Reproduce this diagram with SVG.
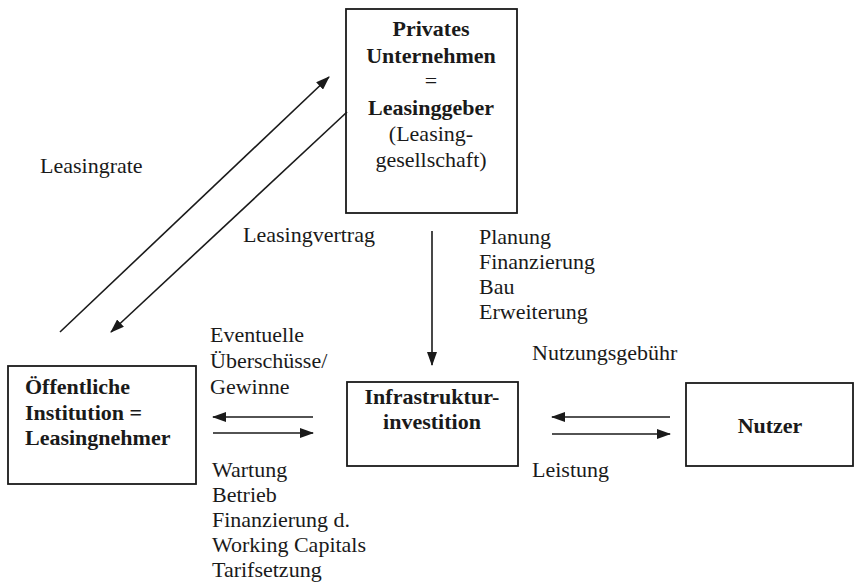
<svg xmlns="http://www.w3.org/2000/svg" width="854" height="587" viewBox="0 0 854 587">
<defs>
<style>
.box{fill:#fff;stroke:#1a1a1a;stroke-width:1.8}
.t{font-family:"Liberation Serif","Times New Roman",serif;font-size:22px;fill:#1a1a1a}
.b{font-weight:bold}
.c{text-anchor:middle}
.ln{stroke:#1a1a1a;stroke-width:1.6;fill:none}
</style>
<marker id="ah" markerUnits="userSpaceOnUse" markerWidth="14" markerHeight="10" refX="13" refY="5" orient="auto">
<path d="M0,0 L14,5 L0,10 z" fill="#1a1a1a"/>
</marker>
</defs>
<rect width="854" height="587" fill="#fff"/>

<g id="privates-unternehmen">
<rect class="box" x="346" y="9" width="171" height="204"/>
<text class="t b c" x="431" y="36">Privates</text>
<text class="t b c" x="431" y="63">Unternehmen</text>
<text class="t c" x="431" y="88">=</text>
<text class="t b c" x="431" y="115">Leasinggeber</text>
<text class="t c" x="431" y="141">(Leasing-</text>
<text class="t c" x="431" y="167">gesellschaft)</text>
</g>

<g id="oeffentliche-institution">
<rect class="box" x="8" y="366" width="188" height="118"/>
<text class="t b" x="25" y="394">Öffentliche</text>
<text class="t b" x="25" y="420">Institution =</text>
<text class="t b" x="25" y="445">Leasingnehmer</text>
</g>

<g id="infrastrukturinvestition">
<rect class="box" x="347" y="382" width="171" height="84"/>
<text class="t b c" x="432" y="404">Infrastruktur-</text>
<text class="t b c" x="432" y="429">investition</text>
</g>

<g id="nutzer">
<rect class="box" x="686" y="383" width="167" height="83"/>
<text class="t b c" x="770" y="433">Nutzer</text>
</g>

<g id="connectors">
<line class="ln" x1="60" y1="332" x2="329" y2="77" marker-end="url(#ah)"/>
<line class="ln" x1="347" y1="112" x2="111" y2="332" marker-end="url(#ah)"/>
<line class="ln" x1="432" y1="231" x2="432" y2="365" marker-end="url(#ah)"/>
<line class="ln" x1="313" y1="417" x2="213" y2="417" marker-end="url(#ah)"/>
<line class="ln" x1="213" y1="433" x2="313" y2="433" marker-end="url(#ah)"/>
<line class="ln" x1="670" y1="417" x2="552" y2="417" marker-end="url(#ah)"/>
<line class="ln" x1="552" y1="434" x2="670" y2="434" marker-end="url(#ah)"/>
</g>

<g id="labels">
<text class="t" x="40" y="173">Leasingrate</text>
<text class="t" x="243" y="242">Leasingvertrag</text>
<text class="t" x="479" y="244">Planung</text>
<text class="t" x="479" y="269">Finanzierung</text>
<text class="t" x="479" y="294">Bau</text>
<text class="t" x="479" y="319">Erweiterung</text>
<text class="t" x="532" y="360">Nutzungsgebühr</text>
<text class="t" x="210" y="342">Eventuelle</text>
<text class="t" x="210" y="368">Überschüsse/</text>
<text class="t" x="210" y="394">Gewinne</text>
<text class="t" x="212" y="477">Wartung</text>
<text class="t" x="212" y="502">Betrieb</text>
<text class="t" x="212" y="527">Finanzierung d.</text>
<text class="t" x="212" y="552">Working Capitals</text>
<text class="t" x="212" y="577">Tarifsetzung</text>
<text class="t" x="532" y="477">Leistung</text>
</g>
</svg>
